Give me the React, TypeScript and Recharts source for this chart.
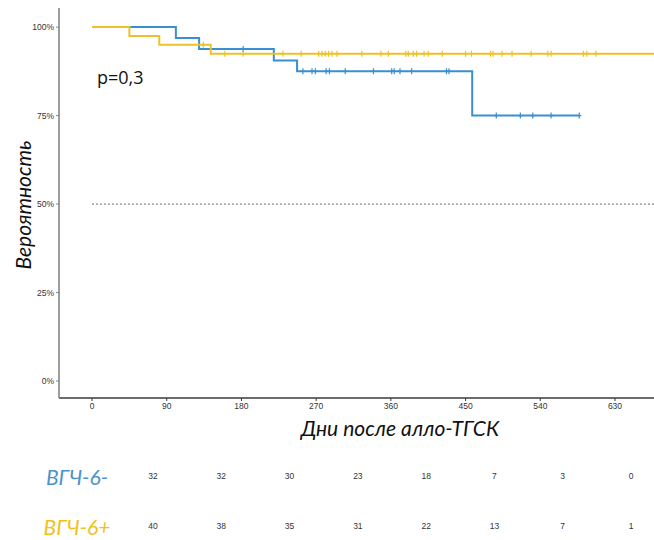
import {
  ComposedChart,
  Label,
  Line,
  ReferenceLine,
  Scatter,
  XAxis,
  YAxis,
} from "recharts";

const blueName = "ВГЧ-6-";
const yellowName = "ВГЧ-6+";
const blueColor = "#3a8fd0";
const yellowColor = "#ecc22a";

// Kaplan-Meier steps
const blueTimes = [0, 101, 129, 219, 247, 458, 587];
const blueSurv = [1, 0.969, 0.938, 0.906, 0.875, 0.75, 0.75];
const blueCensored = [
  182, 254, 265, 269, 282, 286, 305, 339, 361, 364, 371, 385, 427, 430, 487,
  516, 531, 553, 587,
];

const yellowTimes = [0, 45, 81, 143, 800];
const yellowSurv = [1, 0.975, 0.95, 0.925, 0.925];
const yellowCensored = [
  134, 160, 182, 230, 252, 273, 277, 281, 285, 289, 295, 325, 348, 357, 378,
  381, 387, 391, 400, 405, 422, 450, 457, 480, 483, 494, 506, 529, 549, 553,
  592, 596, 607,
];

const xTicks = [0, 90, 180, 270, 360, 450, 540, 630];
const yTicks = [0, 0.25, 0.5, 0.75, 1];

const riskTimes = [0, 90, 180, 270, 360, 450, 540, 630];
const blueAtRisk = [32, 32, 30, 23, 18, 7, 3, 0];
const yellowAtRisk = [40, 38, 35, 31, 22, 13, 7, 1];

const survAt = (times: number[], surv: number[], t: number) => {
  let s = surv[0];
  times.forEach((tt, i) => {
    if (tt <= t) s = surv[i];
  });
  return s;
};

const blueCurve = blueTimes.map((t, i) => ({ t, s: blueSurv[i] }));
const yellowCurve = yellowTimes.map((t, i) => ({ t, s: yellowSurv[i] }));
const blueMarks = blueCensored.map((t) => ({
  t,
  s: survAt(blueTimes, blueSurv, t),
}));
const yellowMarks = yellowCensored.map((t) => ({
  t,
  s: survAt(yellowTimes, yellowSurv, t),
}));

const blueRisk = riskTimes.map((t, i) => ({ t, row: 0, n: blueAtRisk[i] }));
const yellowRisk = riskTimes.map((t, i) => ({ t, row: 1, n: yellowAtRisk[i] }));

const tickFont = { fontSize: 8.5, fill: "#333", fontFamily: "Liberation Sans" };
const titleFont = "Lato, 'Open Sans', sans-serif";

const censorShape = (color: string) => (props: any) => {
  const { cx, cy } = props;
  return (
    <path
      d={`M${cx},${cy - 3}L${cx},${cy + 3}M${cx - 2},${cy}L${cx + 2},${cy}`}
      stroke={color}
      strokeWidth={1.2}
      fill="none"
    />
  );
};

const riskText = (props: any) => (
  <text
    x={props.cx}
    y={props.cy}
    textAnchor="middle"
    dominantBaseline="central"
    fontSize={8.5}
    fill="#333"
    fontFamily="Liberation Sans"
  >
    {props.payload.n}
  </text>
);

const RowLabel = (props: any) => {
  const first = props.payload.value === 0;
  return (
    <text
      x={77}
      y={props.y}
      textAnchor="middle"
      dominantBaseline="central"
      fontSize={21}
      fontStyle="italic"
      fontFamily={titleFont}
      fill={first ? "#4a92cc" : "#f0c219"}
    >
      {first ? blueName : yellowName}
    </text>
  );
};

export default function App() {
  return (
    <div
      style={{
        position: "absolute",
        left: 0,
        top: 0,
        width: 654,
        height: 540,
        background: "#fff",
      }}
    >
      <ComposedChart
        width={654}
        height={445}
        margin={{ top: 8, right: 0, bottom: 0, left: 0 }}
      >
        <XAxis
          type="number"
          dataKey="t"
          domain={[-39.8, 677]}
          ticks={xTicks}
          allowDataOverflow
          height={47}
          tick={tickFont}
          tickSize={3}
          axisLine={{ stroke: "#3a3a3a", strokeWidth: 1.3 }}
          tickLine={{ stroke: "#3a3a3a" }}
        >
          <Label
            content={() => (
              <text
                x={400}
                y={436}
                textAnchor="middle"
                fontSize={21}
                fontStyle="italic"
                fontFamily={titleFont}
                fill="#111"
              >
                Дни после алло-ТГСК
              </text>
            )}
          />
        </XAxis>
        <YAxis
          type="number"
          domain={[-0.048, 1.054]}
          ticks={yTicks}
          allowDataOverflow
          width={59}
          tick={tickFont}
          tickSize={3}
          tickFormatter={(v: number) => `${Math.round(v * 100)}%`}
          axisLine={{ stroke: "#858585", strokeWidth: 1.6 }}
          tickLine={{ stroke: "#858585" }}
        >
          <Label
            content={() => (
              <text
                x={22}
                y={205}
                transform="rotate(-90 22 205)"
                textAnchor="middle"
                dominantBaseline="central"
                fontSize={21}
                fontStyle="italic"
                fontFamily={titleFont}
                fill="#111"
              >
                Вероятность
              </text>
            )}
          />
        </YAxis>
        <ReferenceLine
          segment={[
            { x: 0, y: 0.5 },
            { x: 677, y: 0.5 },
          ]}
          stroke="#8a8a8a"
          strokeDasharray="2 2"
          strokeWidth={1.2}
        />
        <Line
          data={blueCurve}
          dataKey="s"
          type="stepAfter"
          stroke={blueColor}
          strokeWidth={2}
          dot={false}
          isAnimationActive={false}
        />
        <Scatter
          data={blueMarks}
          dataKey="s"
          shape={censorShape(blueColor)}
          isAnimationActive={false}
        />
        <Line
          data={yellowCurve}
          dataKey="s"
          type="stepAfter"
          stroke={yellowColor}
          strokeWidth={2}
          dot={false}
          isAnimationActive={false}
        />
        <Scatter
          data={yellowMarks}
          dataKey="s"
          shape={censorShape(yellowColor)}
          isAnimationActive={false}
        />
      </ComposedChart>
      <div
        style={{
          position: "absolute",
          left: 97,
          top: 65,
          fontSize: 18,
          fontFamily: "'Open Sans', sans-serif",
          color: "#111",
        }}
      >
        p=0,3
      </div>
      <ComposedChart
        width={654}
        height={95}
        margin={{ top: 0, right: 0, bottom: 0, left: 0 }}
      >
        <XAxis
          type="number"
          dataKey="t"
          domain={[-43.5, 660.3]}
          allowDataOverflow
          hide
        />
        <YAxis
          type="number"
          domain={[-0.62, 1.28]}
          reversed
          ticks={[0, 1]}
          width={120}
          axisLine={false}
          tickLine={false}
          tick={RowLabel}
        />
        <Scatter
          data={blueRisk}
          dataKey="row"
          shape={riskText}
          isAnimationActive={false}
        />
        <Scatter
          data={yellowRisk}
          dataKey="row"
          shape={riskText}
          isAnimationActive={false}
        />
      </ComposedChart>
    </div>
  );
}
